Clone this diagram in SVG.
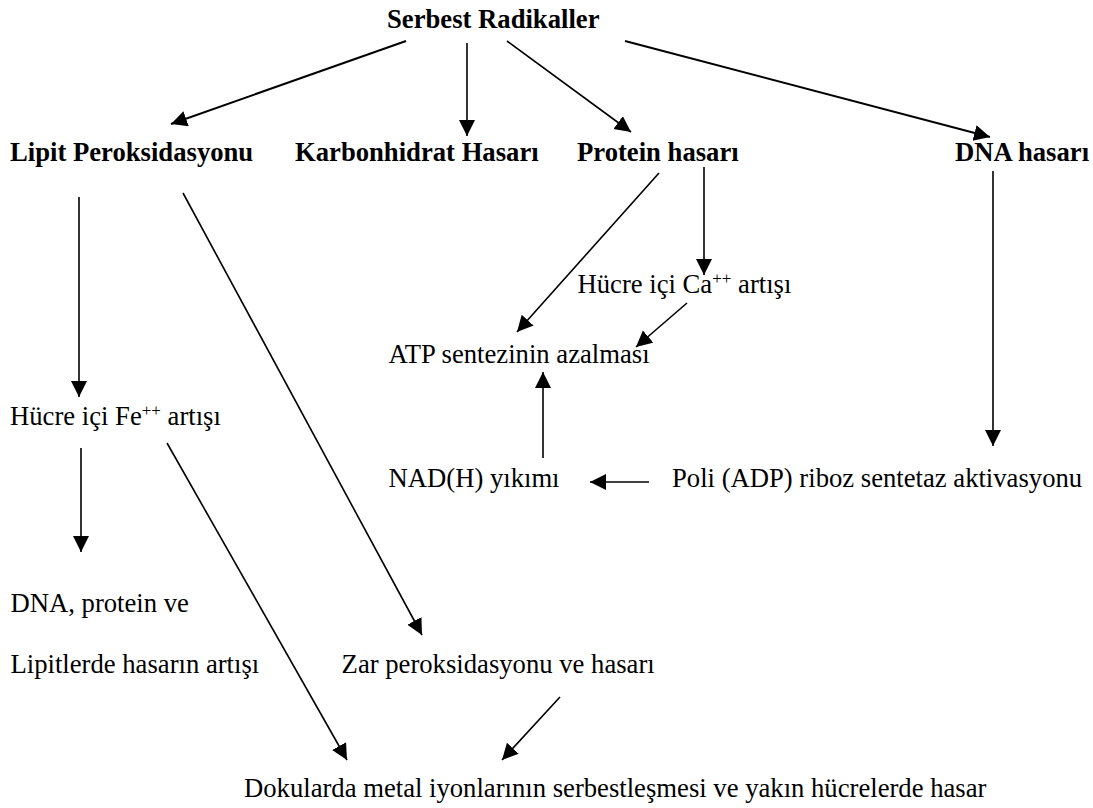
<svg xmlns="http://www.w3.org/2000/svg" width="1093" height="808" viewBox="0 0 1093 808">
<defs>
<marker id="ah" markerUnits="userSpaceOnUse" markerWidth="18" markerHeight="18" refX="16" refY="8" orient="auto">
<path d="M0,0 L16,8 L0,16 Z" fill="#000"/>
</marker>
<style>
.t{font-family:"Liberation Serif","Times New Roman",serif;font-size:26.67px;fill:#000}
.b{font-weight:bold}
.sup{font-size:17px}
.c line{stroke:#000;stroke-width:1.6;fill:none;marker-end:url(#ah)}
.c line.k{stroke-width:2}
</style>
</defs>
<rect width="1093" height="808" fill="#fff"/>
<g class="c" id="connectors">
<line class="k" x1="406" y1="41" x2="171" y2="124"/>
<line x1="467" y1="43" x2="467" y2="136"/>
<line x1="507" y1="41" x2="631" y2="132"/>
<line class="k" x1="625" y1="41" x2="990" y2="137"/>
<line x1="79" y1="197" x2="79" y2="397"/>
<line x1="183" y1="193" x2="422" y2="635"/>
<line x1="659" y1="173" x2="517" y2="332"/>
<line x1="704" y1="167" x2="704" y2="275"/>
<line x1="687" y1="303" x2="636" y2="347"/>
<line x1="543" y1="458" x2="543" y2="372"/>
<line x1="993" y1="171" x2="993" y2="446"/>
<line x1="649" y1="482" x2="590" y2="482"/>
<line x1="81" y1="448" x2="81" y2="552"/>
<line x1="167" y1="443" x2="347" y2="760"/>
<line x1="560" y1="697" x2="502" y2="760"/>
</g>
<g id="serbest"><text class="t b" x="387" y="28">Serbest Radikaller</text></g>
<g id="lipit"><text class="t b" x="10" y="161">Lipit Peroksidasyonu</text></g>
<g id="karbonhidrat"><text class="t b" x="295" y="161">Karbonhidrat Hasarı</text></g>
<g id="protein"><text class="t b" x="577" y="161">Protein hasarı</text></g>
<g id="dna"><text class="t b" x="955" y="161">DNA hasarı</text></g>
<g id="ca"><text class="t" x="577.5" y="293">Hücre içi Ca<tspan class="sup" dy="-9">++</tspan><tspan dy="9"> artışı</tspan></text></g>
<g id="atp"><text class="t" x="388.5" y="363">ATP sentezinin azalması</text></g>
<g id="fe"><text class="t" x="10" y="425">Hücre içi Fe<tspan class="sup" dy="-9">++</tspan><tspan dy="9"> artışı</tspan></text></g>
<g id="nad"><text class="t" x="388.5" y="487">NAD(H) yıkımı</text></g>
<g id="poli"><text class="t" x="672" y="487">Poli (ADP) riboz sentetaz aktivasyonu</text></g>
<g id="hasar-artisi"><text class="t" x="10.5" y="612">DNA, protein ve</text><text class="t" x="10.5" y="673">Lipitlerde hasarın artışı</text></g>
<g id="zar"><text class="t" x="341.6" y="673">Zar peroksidasyonu ve hasarı</text></g>
<g id="dokularda"><text class="t" x="244" y="797">Dokularda metal iyonlarının serbestleşmesi ve yakın hücrelerde hasar</text></g>
</svg>
